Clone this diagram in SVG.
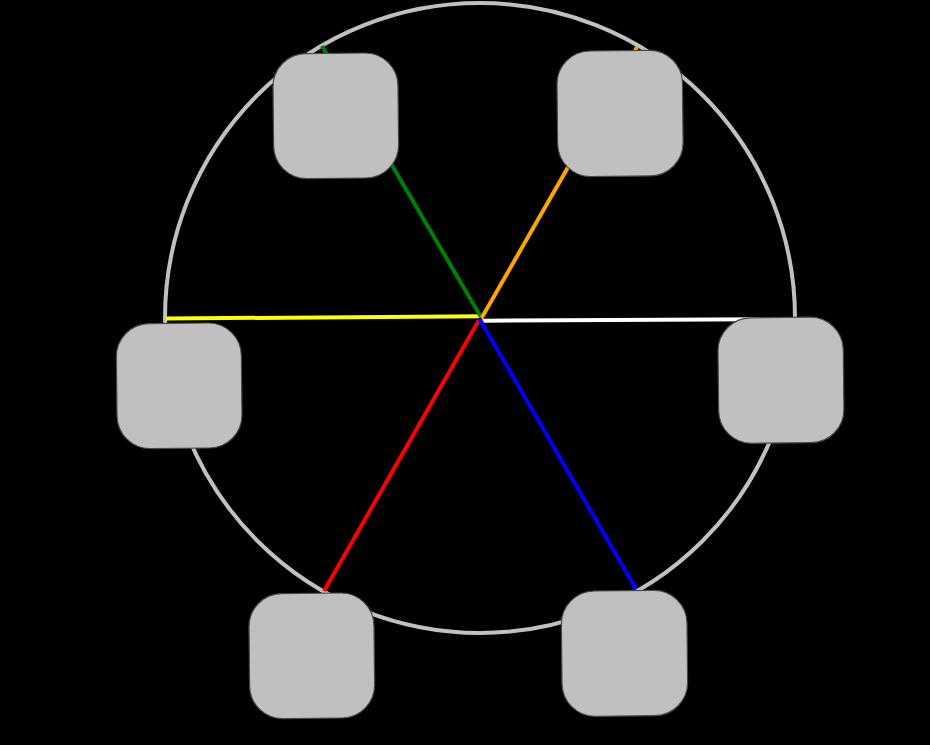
<svg xmlns="http://www.w3.org/2000/svg" width="930" height="745" viewBox="0 0 930 745">
<style>
.spoke{stroke-width:4;stroke-linecap:butt;fill:none}
.gondola{fill:#c0c0c0;stroke:#4a4a4a;stroke-width:1.2}
</style>
<rect x="0" y="0" width="930" height="745" fill="#000"/>
<g id="wheel">
<circle cx="480" cy="318" r="315" fill="none" stroke="#c0c0c0" stroke-width="4"/>
</g>
<g id="connectors">
<line class="spoke" x1="166" y1="318.5" x2="481" y2="316.3" stroke="#ffff00"/>
<line class="spoke" x1="482" y1="320.7" x2="796" y2="319.2" stroke="#ffffff"/>
<line class="spoke" x1="481" y1="317" x2="322" y2="46" stroke="#008000"/>
<line class="spoke" x1="481" y1="319" x2="637" y2="47" stroke="#ffa500"/>
<line class="spoke" x1="479.5" y1="319" x2="324" y2="591" stroke="#ff0000"/>
<line class="spoke" x1="479" y1="318" x2="636" y2="589" stroke="#0000ff"/>
</g>
<g id="gondola-top-left"><rect class="gondola" x="273.3" y="53.3" width="125" height="125" rx="33" transform="rotate(-0.6 335.8 115.8)"/></g>
<g id="gondola-top-right"><rect class="gondola" x="557.3" y="50.7" width="125.5" height="125.5" rx="33" transform="rotate(-0.6 620 113.4)"/></g>
<g id="gondola-left"><rect class="gondola" x="116.7" y="323.3" width="125" height="125" rx="33" transform="rotate(-0.6 179.2 385.8)"/></g>
<g id="gondola-right"><rect class="gondola" x="718.3" y="317.5" width="125.3" height="125.5" rx="33" transform="rotate(-0.6 781 380.3)"/></g>
<g id="gondola-bottom-left"><rect class="gondola" x="249.3" y="593.3" width="125" height="125" rx="33" transform="rotate(-0.6 311.8 655.8)"/></g>
<g id="gondola-bottom-right"><rect class="gondola" x="561.7" y="590.7" width="125.6" height="125.3" rx="33" transform="rotate(-0.6 624.5 653.3)"/></g>
</svg>
